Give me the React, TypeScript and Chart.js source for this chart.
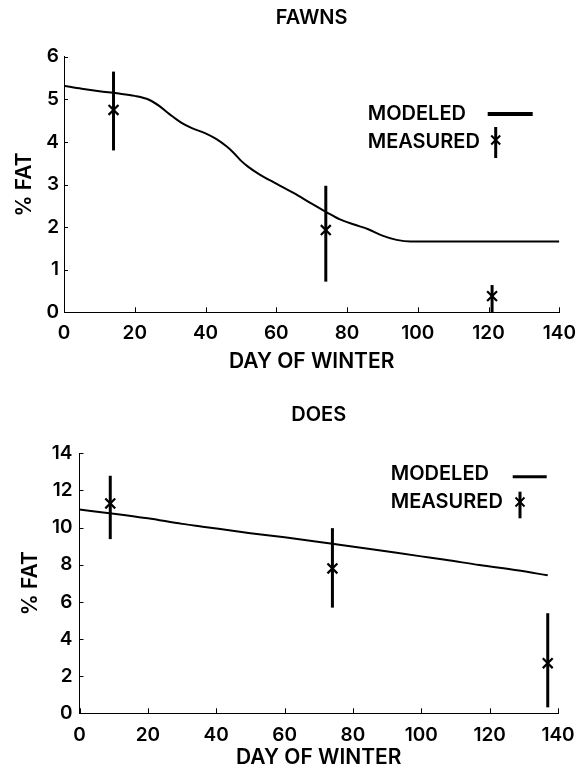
import React, { useEffect, useRef } from "react";
import { Chart, registerables } from "chart.js";

Chart.register(...registerables);

const FONT = "Inter, 'Liberation Sans', Arial, Helvetica, sans-serif";
const WEIGHT = "560";

// ---------- FAWNS ----------
const fawnModelDays = [0, 5, 10, 15, 20, 24, 27, 30, 33, 36, 40, 43, 46, 48, 50, 52, 55, 60, 65, 70, 74, 78, 82, 86, 90, 94, 98, 140];
const fawnModelFat = [5.32, 5.25, 5.19, 5.14, 5.08, 4.99, 4.84, 4.64, 4.46, 4.33, 4.2, 4.07, 3.89, 3.74, 3.56, 3.42, 3.25, 3.02, 2.8, 2.55, 2.36, 2.18, 2.06, 1.95, 1.8, 1.7, 1.66, 1.66];
const fawnMeasDays = [14, 74, 121];
const fawnMeasFat = [4.75, 1.93, 0.38];
const fawnMeasLow = [3.8, 0.72, 0.0];
const fawnMeasHigh = [5.65, 2.97, 0.64];

// ---------- DOES ----------
const doeModelDays = [0, 10, 20, 30, 36, 50, 60, 74, 85, 100, 107, 117, 128, 137];
const doeModelFat = [10.97, 10.75, 10.5, 10.2, 10.05, 9.7, 9.48, 9.13, 8.85, 8.45, 8.27, 7.98, 7.7, 7.43];
const doeMeasDays = [9, 74, 137];
const doeMeasFat = [11.3, 7.8, 2.7];
const doeMeasLow = [9.38, 5.69, 0.32];
const doeMeasHigh = [12.79, 9.97, 5.39];

// ---------- axes / labels ----------
const xMin = 0;
const xMax = 140;
const xStep = 20;
const fawnYMax = 6;
const fawnYStep = 1;
const doeYMax = 14;
const doeYStep = 2;
const xTitle = "DAY OF WINTER";
const yTitle = "% FAT";
const legendLabels = ["MODELED", "MEASURED"];

const inwardTicks = {
  id: "inwardTicks",
  afterDraw(chart: any) {
    const { ctx, chartArea, scales } = chart;
    const x = scales.x;
    const y = scales.y;
    ctx.save();
    ctx.strokeStyle = "#000";
    ctx.lineWidth = 1;
    ctx.beginPath();
    x.ticks.forEach((t: any) => {
      const px = Math.round(x.getPixelForValue(t.value)) + 0.5;
      ctx.moveTo(px, chartArea.bottom);
      ctx.lineTo(px, chartArea.bottom - 5);
    });
    y.ticks.forEach((t: any) => {
      const py = Math.round(y.getPixelForValue(t.value)) + 0.5;
      ctx.moveTo(chartArea.left, py);
      ctx.lineTo(chartArea.left + 4, py);
    });
    ctx.stroke();
    ctx.restore();
  },
};

const errorBars = {
  id: "errorBars",
  afterDatasetsDraw(chart: any) {
    const { ctx, scales } = chart;
    chart.data.datasets.forEach((ds: any) => {
      if (!ds.errLow) return;
      ctx.save();
      ctx.strokeStyle = "#000";
      ctx.lineWidth = 3;
      ds.data.forEach((pt: any, i: number) => {
        const px = scales.x.getPixelForValue(pt.x);
        ctx.beginPath();
        ctx.moveTo(px, scales.y.getPixelForValue(ds.errLow[i]));
        ctx.lineTo(px, scales.y.getPixelForValue(ds.errHigh[i]));
        ctx.stroke();
      });
      ctx.restore();
    });
  },
};

const customLegend = {
  id: "customLegend",
  afterDraw(chart: any, _args: any, opts: any) {
    const { ctx, chartArea } = chart;
    const L = chartArea.left;
    const T = chartArea.top;
    ctx.save();
    ctx.fillStyle = "#000";
    ctx.strokeStyle = "#000";
    ctx.font = `${WEIGHT} 20px ${FONT}`;
    ctx.textAlign = "left";
    ctx.textBaseline = "middle";
    ctx.fillText(legendLabels[0], L + opts.textX, T + opts.row1Y);
    ctx.fillText(legendLabels[1], L + opts.textX, T + opts.row2Y);
    // line sample
    ctx.lineWidth = opts.lineW;
    ctx.beginPath();
    ctx.moveTo(L + opts.lineX1, T + opts.lineY);
    ctx.lineTo(L + opts.lineX2, T + opts.lineY);
    ctx.stroke();
    // error bar sample
    ctx.lineWidth = 3;
    ctx.beginPath();
    ctx.moveTo(L + opts.barX, T + opts.barY1);
    ctx.lineTo(L + opts.barX, T + opts.barY2);
    ctx.stroke();
    // x mark
    const r = 4.5;
    const mx = L + opts.barX;
    const my = T + opts.markY;
    ctx.lineWidth = 2;
    ctx.beginPath();
    ctx.moveTo(mx - r, my - r);
    ctx.lineTo(mx + r, my + r);
    ctx.moveTo(mx + r, my - r);
    ctx.lineTo(mx - r, my + r);
    ctx.stroke();
    ctx.restore();
  },
};

type Spec = {
  title: string;
  modelDays: number[];
  modelFat: number[];
  measDays: number[];
  measFat: number[];
  measLow: number[];
  measHigh: number[];
  yMax: number;
  yStep: number;
  height: number;
  yAxisWidth: number;
  xAxisHeight: number;
  padRight: number;
  titlePad: { top: number; bottom: number };
  xTitlePadBottom: number;
  yTitlePadTop: number;
  yTickPad: number;
  xTickPad: number;
  legend: any;
};

function FatChart({ spec }: { spec: Spec }) {
  const ref = useRef<HTMLCanvasElement>(null);
  useEffect(() => {
    if (!ref.current) return;
    const chart = new Chart(ref.current, {
      type: "scatter",
      data: {
        datasets: [
          {
            type: "line",
            label: legendLabels[0],
            data: spec.modelDays.map((d, i) => ({ x: d, y: spec.modelFat[i] })),
            borderColor: "#000",
            borderWidth: 2,
            pointRadius: 0,
            fill: false,
            cubicInterpolationMode: "monotone",
            showLine: true,
          } as any,
          {
            type: "scatter",
            label: legendLabels[1],
            data: spec.measDays.map((d, i) => ({ x: d, y: spec.measFat[i] })),
            errLow: spec.measLow,
            errHigh: spec.measHigh,
            pointStyle: "crossRot",
            pointRadius: 7,
            pointBorderWidth: 2.2,
            borderColor: "#000",
            backgroundColor: "#000",
            showLine: false,
          } as any,
        ],
      },
      options: {
        responsive: false,
        animation: false,
        devicePixelRatio: 1,
        layout: { padding: { left: 0, right: spec.padRight, top: 0, bottom: 0 } },
        plugins: {
          legend: { display: false },
          tooltip: { enabled: false },
          title: {
            display: true,
            text: spec.title,
            fullSize: false,
            color: "#000",
            font: { family: FONT, size: 20, weight: WEIGHT },
            padding: spec.titlePad,
          },
          customLegend: spec.legend,
        } as any,
        scales: {
          x: {
            type: "linear",
            min: xMin,
            max: xMax,
            grid: { display: false, drawTicks: false },
            border: { display: true, color: "#000", width: 1 },
            ticks: {
              stepSize: xStep,
              color: "#000",
              font: { family: FONT, size: 19, weight: WEIGHT },
              padding: spec.xTickPad,
              maxRotation: 0,
            },
            title: {
              display: true,
              text: xTitle,
              color: "#000",
              font: { family: FONT, size: 21, weight: WEIGHT },
              padding: { top: 0, bottom: spec.xTitlePadBottom },
            },
            afterFit: (s: any) => {
              s.height = spec.xAxisHeight;
              s.paddingLeft = 0;
              s.paddingRight = 0;
            },
          },
          y: {
            type: "linear",
            min: 0,
            max: spec.yMax,
            grid: { display: false, drawTicks: false },
            border: { display: true, color: "#000", width: 1 },
            ticks: {
              stepSize: spec.yStep,
              color: "#000",
              font: { family: FONT, size: 19, weight: WEIGHT },
              padding: spec.yTickPad,
            },
            title: {
              display: true,
              text: yTitle,
              color: "#000",
              font: { family: FONT, size: 21, weight: WEIGHT },
              padding: { top: spec.yTitlePadTop, bottom: 0 },
            },
            afterFit: (s: any) => {
              s.width = spec.yAxisWidth;
              s.paddingTop = 0;
              s.paddingBottom = 0;
            },
          },
        },
      } as any,
      plugins: [inwardTicks, errorBars, customLegend],
    });
    return () => chart.destroy();
  }, [spec]);
  return <canvas ref={ref} width={580} height={spec.height} style={{ display: "block" }} />;
}

const fawnSpec: Spec = {
  title: "FAWNS",
  modelDays: fawnModelDays,
  modelFat: fawnModelFat,
  measDays: fawnMeasDays,
  measFat: fawnMeasFat,
  measLow: fawnMeasLow,
  measHigh: fawnMeasHigh,
  yMax: fawnYMax,
  yStep: fawnYStep,
  height: 390,
  yAxisWidth: 64,
  xAxisHeight: 77.7,
  padRight: 20.7,
  titlePad: { top: 6, bottom: 26.7 },
  xTitlePadBottom: 15.8,
  yTitlePadTop: 12,
  yTickPad: 5,
  xTickPad: 10,
  legend: { textX: 303.7, row1Y: 57.3, row2Y: 85, lineX1: 423.7, lineX2: 468.7, lineY: 57.3, lineW: 4, barX: 431.7, barY1: 70.3, barY2: 101.3, markY: 83.3 },
};

const doeSpec: Spec = {
  title: "DOES",
  modelDays: doeModelDays,
  modelFat: doeModelFat,
  measDays: doeMeasDays,
  measFat: doeMeasFat,
  measLow: doeMeasLow,
  measHigh: doeMeasHigh,
  yMax: doeYMax,
  yStep: doeYStep,
  height: 381,
  yAxisWidth: 79.5,
  xAxisHeight: 57.7,
  padRight: 22,
  titlePad: { top: 13, bottom: 26.3 },
  xTitlePadBottom: 1,
  yTitlePadTop: 18,
  yTickPad: 7,
  xTickPad: 10.5,
  legend: { textX: 311.2, row1Y: 20.7, row2Y: 48.4, lineX1: 433.2, lineX2: 467.2, lineY: 23.4, lineW: 3, barX: 440.5, barY1: 38.4, barY2: 65, markY: 48.7 },
};

export default function App() {
  return (
    <div style={{ position: "absolute", left: 0, top: 0, width: 580, height: 771, background: "#fff" }}>
      <FatChart spec={fawnSpec} />
      <FatChart spec={doeSpec} />
    </div>
  );
}
